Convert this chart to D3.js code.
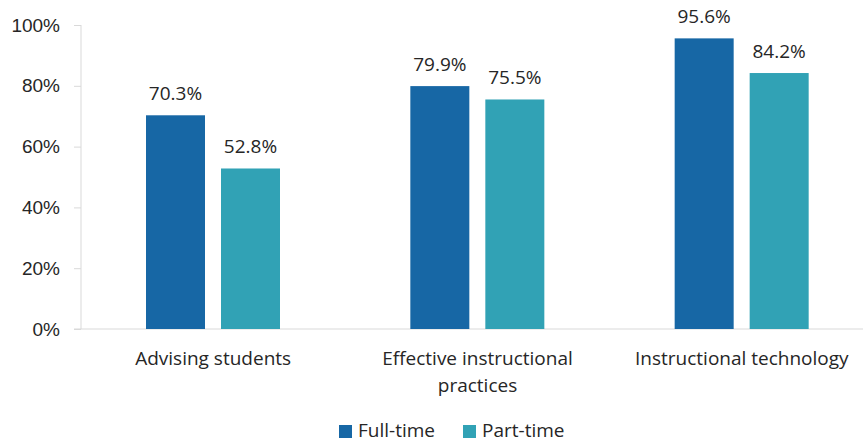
<!DOCTYPE html>
<html>
<head>
  <meta charset="utf-8">
  <title>Full-time vs part-time</title>
  <script src="https://cdnjs.cloudflare.com/ajax/libs/d3/7.8.5/d3.min.js"></script>
  <style>
    body { margin: 0; background: #fff; }
    svg { display: block; font-family: "Open Sans", sans-serif; }
    .axis text { fill: #262626; font-size: 19px; }
    .axis path, .axis line { stroke: #d9d9d9; }
    .val { fill: #262626; font-size: 19px; text-anchor: middle; }
    .cat { fill: #262626; font-size: 19px; text-anchor: middle; }
  </style>
</head>
<body>
<svg id="chart" width="863" height="442"></svg>
<script>
var categories = [["Advising students"], ["Effective instructional", "practices"], ["Instructional technology"]];
var series = ["Full-time", "Part-time"];
var fullTime = [70.3, 79.9, 95.6];
var partTime = [52.8, 75.5, 84.2];
var yTicks = [0, 20, 40, 60, 80, 100];
var colors = ["#1767a5", "#31a2b5"];

var svg = d3.select("#chart");
var mLeft = 81, mRight = 874, mTop = 25, mBottom = 329;

var x0 = d3.scaleBand().domain(d3.range(categories.length)).range([mLeft, mRight]);
var x1 = d3.scaleBand().domain(series).range([65, 199]).paddingInner(0.2133);
var y = d3.scaleLinear().domain([0, 100]).range([mBottom, mTop]);

// y axis
var yAxis = svg.append("g")
  .attr("class", "axis")
  .attr("transform", "translate(" + mLeft + ",0)")
  .call(d3.axisLeft(y).tickValues(yTicks).tickSize(7).tickPadding(14).tickFormat(d => d + "%"));
yAxis.select(".domain").attr("d", "M0," + mTop + "V" + mBottom);

// x baseline
svg.append("line")
  .attr("x1", mLeft - 7).attr("x2", mRight)
  .attr("y1", mBottom).attr("y2", mBottom)
  .attr("stroke", "#d9d9d9");

var rows = categories.map((c, i) => ({ i: i, vals: [fullTime[i], partTime[i]] }));

var groups = svg.selectAll("g.grp")
  .data(rows)
  .enter().append("g")
  .attr("class", "grp")
  .attr("transform", d => "translate(" + x0(d.i) + ",0)");

groups.selectAll("rect")
  .data(d => d.vals.map((v, k) => ({ s: series[k], v: v, k: k })))
  .enter().append("rect")
  .attr("x", d => x1(d.s))
  .attr("width", x1.bandwidth())
  .attr("y", d => y(d.v))
  .attr("height", d => mBottom - y(d.v))
  .attr("fill", d => colors[d.k]);

groups.selectAll("text.val")
  .data(d => d.vals.map((v, k) => ({ s: series[k], v: v })))
  .enter().append("text")
  .attr("class", "val")
  .attr("x", d => x1(d.s) + x1.bandwidth() / 2)
  .attr("y", d => y(d.v) - 15)
  .text(d => d.v.toFixed(1) + "%");

// category labels
categories.forEach((lines, i) => {
  var t = svg.append("text").attr("class", "cat")
    .attr("x", x0(i) + x0.bandwidth() / 2)
    .attr("y", 365);
  lines.forEach((ln, j) => {
    t.append("tspan").attr("x", x0(i) + x0.bandwidth() / 2).attr("dy", j ? 27 : 0).text(ln);
  });
});

// legend
var legX = [339, 463];
series.forEach((s, k) => {
  svg.append("rect").attr("x", legX[k]).attr("y", 425).attr("width", 13).attr("height", 13).attr("fill", colors[k]);
  svg.append("text").attr("x", legX[k] + 19).attr("y", 437)
    .attr("fill", "#262626").style("font-size", "19px").text(s);
});
</script>
</body>
</html>
